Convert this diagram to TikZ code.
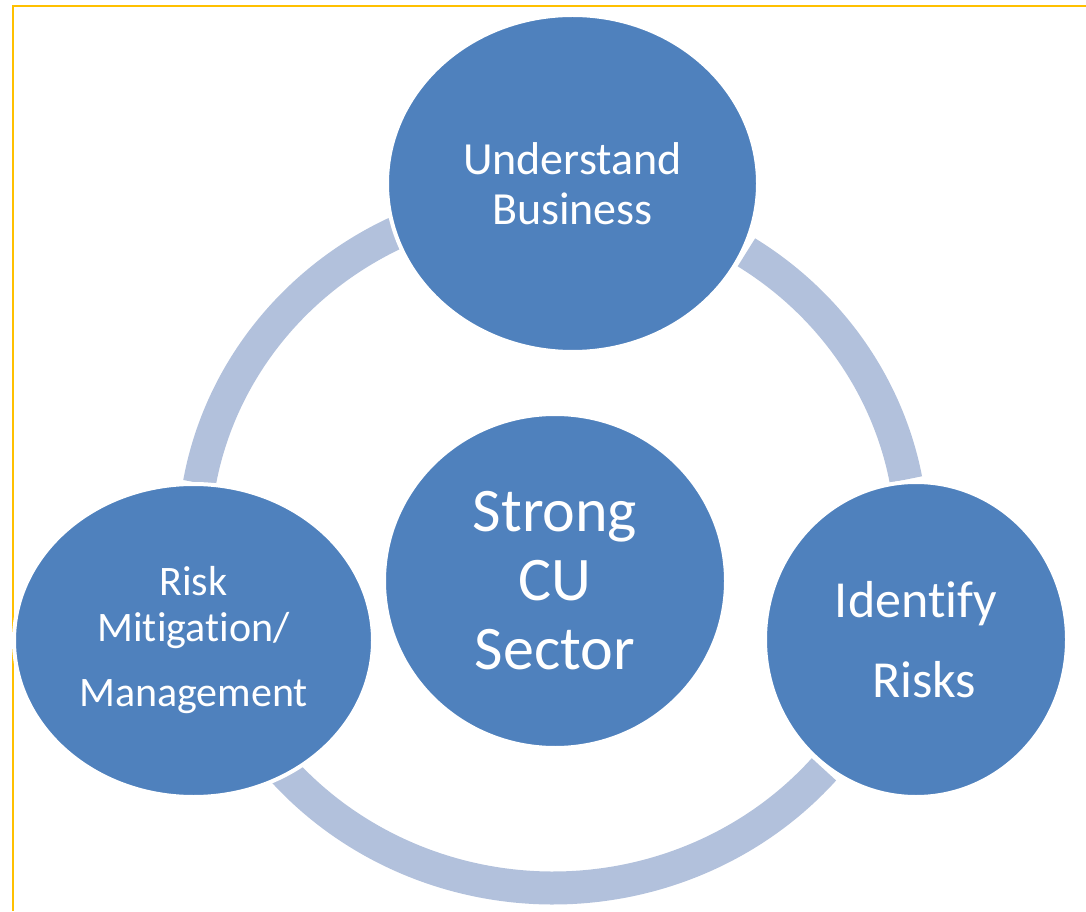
\documentclass[tikz,border=0pt]{standalone}
\usepackage{fontspec}
\setmainfont{Carlito}[Ligatures=NoCommon]
\usetikzlibrary{shapes.geometric}
\definecolor{nodeblue}{HTML}{4F81BD}
\definecolor{arcblue}{HTML}{B2C1DC}
\definecolor{frameyellow}{HTML}{FFC000}
\begin{document}
\begin{tikzpicture}[x=1pt,y=1pt,
  bubble/.style={ellipse, fill=nodeblue, draw=white, line width=4pt, inner sep=0pt, text=white, align=center},
  ringarc/.style={draw=arcblue, line width=33pt, line cap=butt}]
\useasboundingbox (0,0) rectangle (1086,911);
% frame
\draw[frameyellow, line width=2.2pt] (13,0) -- (13,905) -- (1086,905);
% cycle arcs
\coordinate (rc) at (553,368);
\draw[ringarc] (rc) ++(116:359 and 345) arc[start angle=116, end angle=170, x radius=359, y radius=345];
\draw[ringarc] (rc) ++(10.6:359 and 345) arc[start angle=10.6, end angle=57.4, x radius=359, y radius=345];
\draw[ringarc] (rc) ++(221:359 and 345) arc[start angle=221, end angle=319, x radius=359, y radius=345];
% nodes
\node[bubble, minimum width=371pt, minimum height=337pt, font=\fontsize{46}{50}\selectfont] (understand) at (572.5,727.5) {Understand\\Business};
\node[bubble, minimum width=342pt, minimum height=334pt, font=\fontsize{62}{69}\selectfont] (strong) at (555,330) {Strong\\CU\\Sector};
\node[bubble, minimum width=302pt, minimum height=315pt, font=\fontsize{52}{80}\selectfont] (identify) at (916,271.5) {Identify\\\hspace*{16pt}Risks};
\node[bubble, minimum width=359pt, minimum height=313pt, font=\fontsize{42}{46}\selectfont] (mitigation) at (193.5,270.5) {Risk\\Mitigation/\\[19pt]Management};
\end{tikzpicture}
\end{document}
